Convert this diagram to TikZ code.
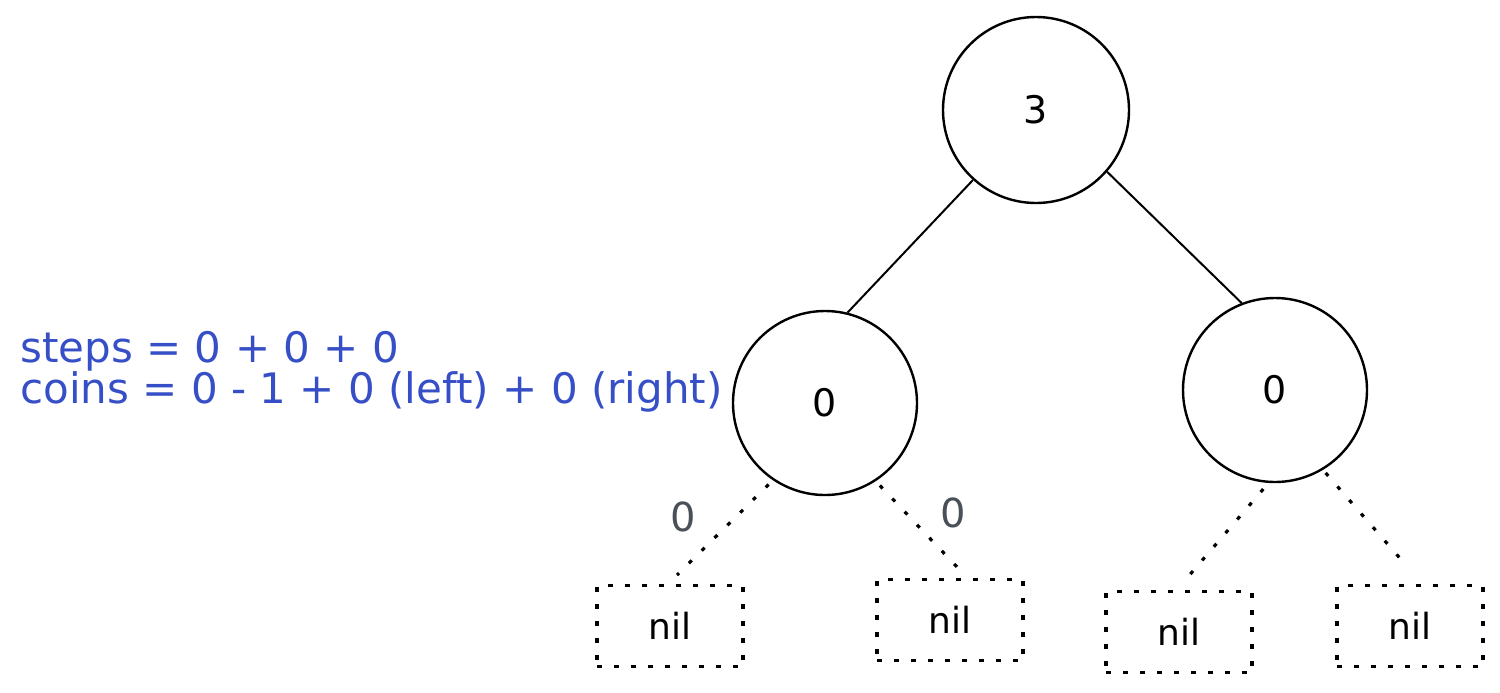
\documentclass[tikz,border=0pt]{standalone}
\usepackage{fontspec}
\setmainfont{DejaVu Sans}
\definecolor{exblue}{HTML}{364FC7}
\definecolor{exgray}{HTML}{495057}
\begin{document}
\begin{tikzpicture}[x=0.5pt,y=-0.5pt,
  treenode/.style={circle,draw,line width=1.2pt,minimum size=92pt,inner sep=0pt,font=\fontsize{19}{23}\selectfont},
  nilbox/.style={draw,line width=1.6pt,dash pattern=on 2.5pt off 6pt,minimum width=73pt,minimum height=40.5pt,inner sep=0pt,font=\fontsize{18}{22}\selectfont},
  edge/.style={line width=1pt},
  niledge/.style={line width=1.6pt,dash pattern=on 2pt off 7pt},
  note/.style={text=exblue,anchor=base west,inner sep=0pt,font=\fontsize{21}{25}\selectfont},
  weight/.style={text=exgray,inner sep=0pt,font=\fontsize{20}{24}\selectfont}]
\useasboundingbox (0,0) rectangle (1500,692);
% tree nodes
\node[treenode,minimum size=93pt] (root) at (1036,110) {3};
\node[treenode] (l) at (825,403) {0};
\node[treenode] (r) at (1275,390) {0};
% nil leaves
\node[nilbox] (n1) at (670,626) {nil};
\node[nilbox] (n2) at (950,620) {nil};
\node[nilbox] (n3) at (1179,632) {nil};
\node[nilbox] (n4) at (1410,626) {nil};
% solid edges
\draw[edge] (root.228) -- (l.76);
\draw[edge] (root.319) -- (r.111);
% dotted edges to nil
\coordinate (e1) at (677,575);
\coordinate (e2) at (957,567);
\coordinate (e3) at (1187,578);
\coordinate (e4) at (1405,564);
\draw[niledge,shorten <=3pt] (l.236) -- (e1);
\draw[niledge,shorten <=3pt] (l.303) -- (e2);
\draw[niledge,shorten <=4pt] (r.266) -- (e3);
\draw[niledge,shorten <=2pt] (r.301) -- (e4);
% weights
\node[weight] (w1) at (683,517) {0};
\node[weight] (w2) at (953,513) {0};
% notes
\node[note] (steps) at (20,362) {steps = 0 + 0 + 0};
\node[note] (coins) at (20,403) {coins = 0 - 1 + 0 (left) + 0 (right)};
\end{tikzpicture}
\end{document}
